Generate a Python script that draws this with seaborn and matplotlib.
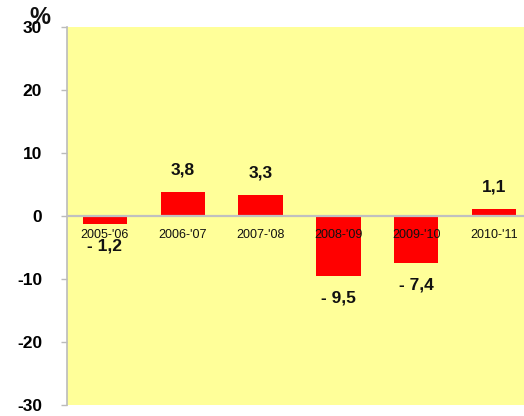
import matplotlib
matplotlib.use("Agg")
import matplotlib.pyplot as plt
import seaborn as sns
import pandas as pd

categories = ["2005-'06", "2006-'07", "2007-'08", "2008-'09", "2009-'10", "2010-'11"]
values = [-1.2, 3.8, 3.3, -9.5, -7.4, 1.1]
value_labels = ["- 1,2", "3,8", "3,3", "- 9,5", "- 7,4", "1,1"]
yticks = [-30, -20, -10, 0, 10, 20, 30]
ytick_labels = ["-30", "-20", "-10", "0", "10", "20", "30"]

plt.rcParams['font.family'] = ['Liberation Sans', 'DejaVu Sans']

df = pd.DataFrame({"cat": categories, "val": values})

fig = plt.figure(figsize=(5.24, 4.16), dpi=100)
ax = fig.add_axes([67/524, 1 - 405/416, 1 - 67/524, (405 - 27)/416])
ax.set_facecolor("#FFFF99")

sns.barplot(data=df, x="cat", y="val", color="#FF0000", width=0.57,
            saturation=1, ax=ax, zorder=2)

ax.set_ylim(-30, 30)
ax.set_xlim(-0.488, 5.386)
ax.set_yticks(yticks)
ax.set_yticklabels(ytick_labels, fontsize=12.5, fontweight="bold")
ax.tick_params(axis="y", length=4, color="#BBBBBB", pad=14, width=1)
ax.tick_params(axis="x", length=0, labelbottom=False)
ax.set_xlabel("")
ax.set_ylabel("")

for s in ["top", "right", "bottom"]:
    ax.spines[s].set_visible(False)
ax.spines["left"].set_color("#BBBBBB")
ax.spines["left"].set_linewidth(1.2)

ax.axhline(0, color="#C0C0C0", linewidth=1.6, zorder=3)

for i, (cat, v, lab) in enumerate(zip(categories, values, value_labels)):
    ax.annotate(cat, xy=(i, 0), xytext=(0, -14), textcoords="offset points",
                ha="center", va="center", fontsize=9, color="#111111", zorder=4)
    off = 16 if v > 0 else -16
    ax.annotate(lab, xy=(i, v), xytext=(0, off), textcoords="offset points",
                ha="center", va="center", fontsize=12.5, fontweight="bold",
                color="#111111", zorder=4)

fig.text(40/524, 1 - 17/416, "%", fontsize=17, fontweight="bold",
         ha="center", va="center", color="#111111")

fig.savefig("out.png", dpi=100)
